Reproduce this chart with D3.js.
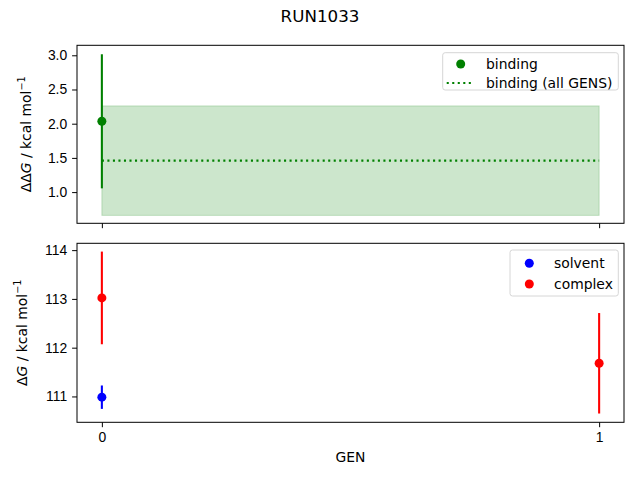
<!DOCTYPE html>
<html>
<head>
<meta charset="utf-8">
<script src="https://cdn.jsdelivr.net/npm/d3@7"></script>
<style>
  body { margin: 0; background: #fff; }
  svg { font-family: "DejaVu Sans", sans-serif; }
  .tick text { font-size: 13.9px; fill: #000; }
  .tick line, .domain { stroke: #000; }
</style>
</head>
<body>
<div id="chart"></div>
<script>
// data
const gens = [0, 1];
const bindingVal = [2.035, null];
const bindingErr = [0.98, null];
const bindingAll = 1.46;
const bindingAllErr = 0.80;
const solventVal = [110.985, null];
const solventErr = [0.24, null];
const complexVal = [113.02, 111.68];
const complexErr = [0.95, 1.03];
const topTicks = [1.0, 1.5, 2.0, 2.5, 3.0];
const botTicks = [111, 112, 113, 114];

const W = 640, H = 480;
const left = 77, right = 624;
const top1 = 45.3, bot1 = 223.3, top2 = 243.3, bot2 = 422.3;
const GREEN = '#008000', BLUE = '#0000ff', RED = '#ff0000';
const R = 4.5;

const svg = d3.select('#chart').append('svg').attr('width', W).attr('height', H);

const x = d3.scaleLinear().domain([-0.05, 1.05]).range([left, right]);
const y1 = d3.scaleLinear().domain([0.544, 3.146]).range([bot1, top1]);
const y2 = d3.scaleLinear().domain([110.47, 114.14]).range([bot2, top2]);

svg.append('text').attr('x', W / 2).attr('y', 22).attr('text-anchor', 'middle')
  .style('font-size', '16.7px').text('RUN1033');

function frame(t, b) {
  svg.append('rect').attr('x', left).attr('y', t).attr('width', right - left).attr('height', b - t)
    .attr('fill', 'none').attr('stroke', '#000').attr('stroke-width', 1);
}

// TOP PANEL
const g1 = svg.append('g');
g1.append('rect')
  .attr('x', x(gens[0])).attr('width', x(gens[gens.length - 1]) - x(gens[0]))
  .attr('y', y1(bindingAll + bindingAllErr))
  .attr('height', y1(bindingAll - bindingAllErr) - y1(bindingAll + bindingAllErr))
  .attr('fill', GREEN).attr('fill-opacity', 0.2).attr('stroke', GREEN).attr('stroke-opacity', 0.2);
g1.append('line')
  .attr('x1', x(gens[0])).attr('x2', x(gens[gens.length - 1]))
  .attr('y1', y1(bindingAll)).attr('y2', y1(bindingAll))
  .attr('stroke', GREEN).attr('stroke-width', 2.08).attr('stroke-dasharray', '2.08,3.44');

function errbars(g, yscale, vals, errs, color) {
  gens.forEach(function(gen, i) {
    if (vals[i] == null) return;
    g.append('line').attr('x1', x(gen)).attr('x2', x(gen))
      .attr('y1', yscale(vals[i] - errs[i])).attr('y2', yscale(vals[i] + errs[i]))
      .attr('stroke', color).attr('stroke-width', 2.08);
    g.append('circle').attr('cx', x(gen)).attr('cy', yscale(vals[i])).attr('r', R).attr('fill', color);
  });
}
errbars(g1, y1, bindingVal, bindingErr, GREEN);

svg.append('g').attr('transform', 'translate(' + left + ',0)')
  .call(d3.axisLeft(y1).tickValues(topTicks).tickFormat(d3.format('.1f')).tickSize(4.9).tickPadding(4.9))
  .call(g => g.select('.domain').remove());
svg.append('g').attr('transform', 'translate(0,' + bot1 + ')')
  .call(d3.axisBottom(x).tickValues(gens).tickFormat('').tickSize(4.9))
  .call(g => g.select('.domain').remove());
frame(top1, bot1);

svg.append('text')
  .attr('transform', 'translate(31,' + (top1 + bot1) / 2 + ') rotate(-90)')
  .attr('text-anchor', 'middle').style('font-size', '13.9px')
  .html('ΔΔ<tspan font-style="italic">G</tspan> / kcal mol<tspan dy="-6" font-size="9.7px">−1</tspan>');

// legend top
const lg1 = svg.append('g');
lg1.append('rect').attr('x', 442.7).attr('y', 52.7).attr('width', 175.6).attr('height', 37.3)
  .attr('rx', 2.5).attr('fill', '#fff').attr('fill-opacity', 0.8).attr('stroke', '#d6d6d6');
lg1.append('circle').attr('cx', 460.7).attr('cy', 64).attr('r', R).attr('fill', GREEN);
lg1.append('line').attr('x1', 446.7).attr('x2', 474).attr('y1', 83).attr('y2', 83)
  .attr('stroke', GREEN).attr('stroke-width', 2.08).attr('stroke-dasharray', '2.08,3.44');
lg1.append('text').attr('x', 486).attr('y', 69).style('font-size', '13.9px').text('binding');
lg1.append('text').attr('x', 486).attr('y', 88).style('font-size', '13.9px').text('binding (all GENS)');

// BOTTOM PANEL
const g2 = svg.append('g');
errbars(g2, y2, solventVal, solventErr, BLUE);
errbars(g2, y2, complexVal, complexErr, RED);

svg.append('g').attr('transform', 'translate(' + left + ',0)')
  .call(d3.axisLeft(y2).tickValues(botTicks).tickFormat(d3.format('d')).tickSize(4.9).tickPadding(4.9))
  .call(g => g.select('.domain').remove());
svg.append('g').attr('transform', 'translate(0,' + bot2 + ')')
  .call(d3.axisBottom(x).tickValues(gens).tickFormat(d3.format('d')).tickSize(4.9).tickPadding(4.9))
  .call(g => g.select('.domain').remove());
frame(top2, bot2);

svg.append('text')
  .attr('transform', 'translate(27,' + (top2 + bot2) / 2 + ') rotate(-90)')
  .attr('text-anchor', 'middle').style('font-size', '13.9px')
  .html('Δ<tspan font-style="italic">G</tspan> / kcal mol<tspan dy="-6" font-size="9.7px">−1</tspan>');

svg.append('text').attr('x', (left + right) / 2).attr('y', 462).attr('text-anchor', 'middle')
  .style('font-size', '13.9px').text('GEN');

// legend bottom
const lg2 = svg.append('g');
lg2.append('rect').attr('x', 510).attr('y', 250).attr('width', 108.3).attr('height', 46)
  .attr('rx', 2.5).attr('fill', '#fff').attr('fill-opacity', 0.8).attr('stroke', '#d6d6d6');
lg2.append('circle').attr('cx', 529.3).attr('cy', 263.3).attr('r', R).attr('fill', BLUE);
lg2.append('circle').attr('cx', 529.3).attr('cy', 284).attr('r', R).attr('fill', RED);
lg2.append('text').attr('x', 554).attr('y', 268).style('font-size', '13.9px').text('solvent');
lg2.append('text').attr('x', 554).attr('y', 288.5).style('font-size', '13.9px').text('complex');
</script>
</body>
</html>
